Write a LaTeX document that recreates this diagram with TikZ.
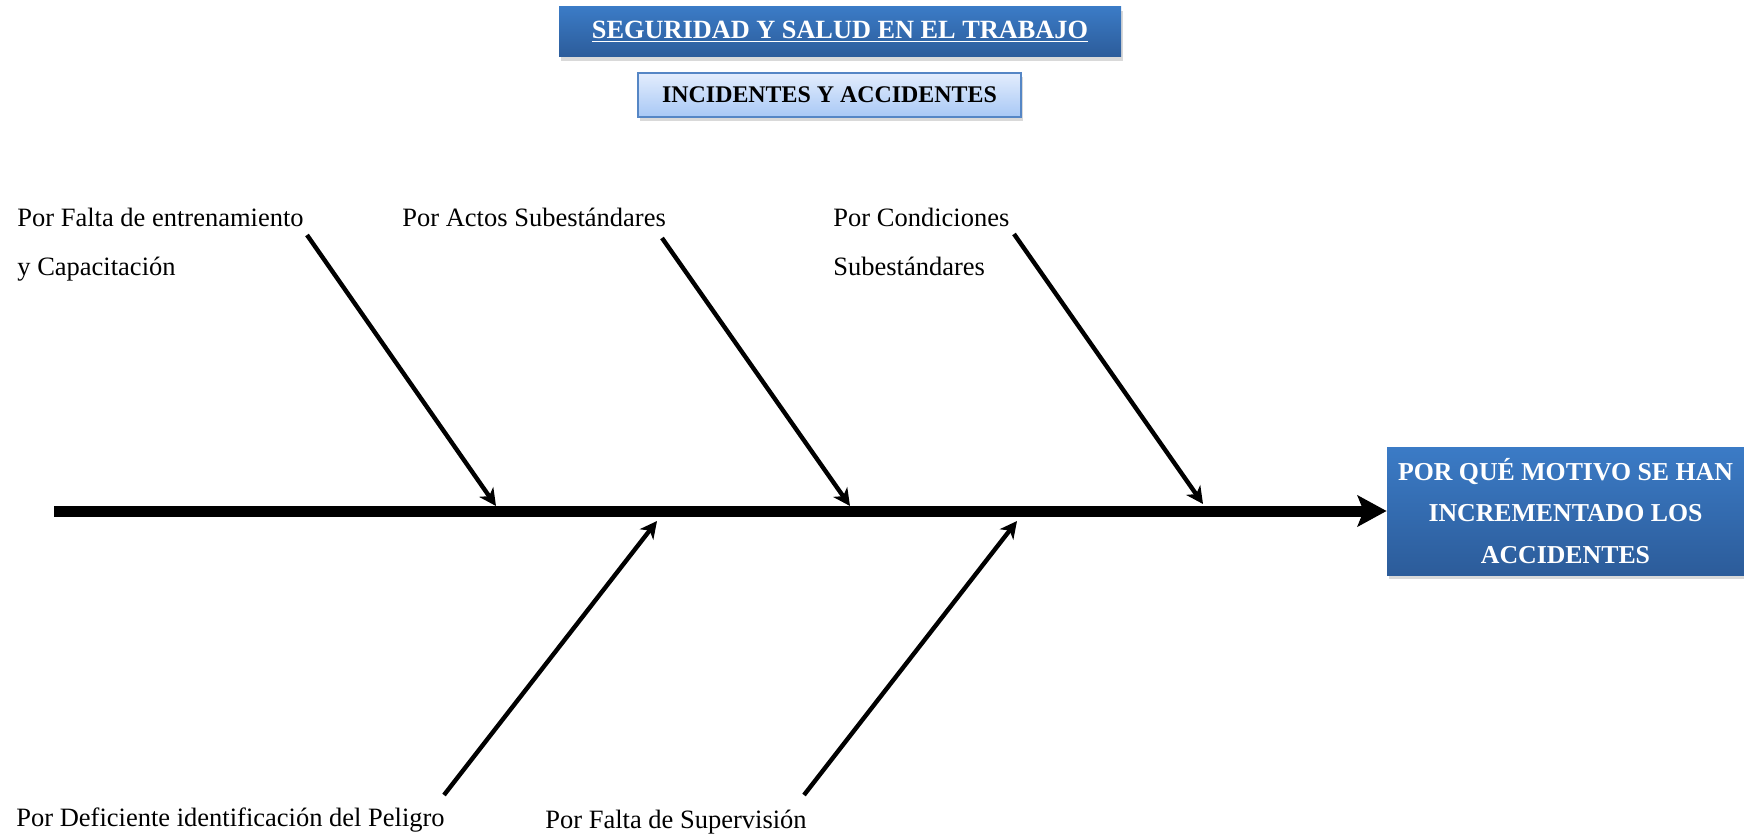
\documentclass[tikz,border=0pt]{standalone}
\usepackage{fontspec}
\setmainfont{Liberation Serif}
\usetikzlibrary{arrows.meta,shadows}

\definecolor{hdtop}{HTML}{3B7BC6}
\definecolor{hdbot}{HTML}{2C5C9A}
\definecolor{subtop}{HTML}{E3EDFD}
\definecolor{subbot}{HTML}{A8C8F5}
\definecolor{subedge}{HTML}{5586C5}

\tikzset{
  softshadow/.style={drop shadow={opacity=0.3, shadow xshift=1pt, shadow yshift=-2pt}},
  darkbox/.style={top color=hdtop, bottom color=hdbot, draw=none, text=white,
    inner sep=0pt, softshadow},
  lightbox/.style={top color=subtop, bottom color=subbot, draw=subedge, line width=0.8pt,
    text=black, inner sep=0pt, softshadow},
  lbl/.style={inner sep=0pt, anchor=base west, font=\fontsize{13.25pt}{16pt}\selectfont},
  spine/.style={line width=5.5pt, line cap=butt,
    -{Stealth[length=14.5pt, width=15.5pt, inset=3pt]}},
  bone/.style={line width=2.2pt, line cap=butt,
    -{Stealth[length=8.5pt, width=8.5pt, inset=2.5pt]}},
}

\begin{document}
\begin{tikzpicture}[x=0.5pt, y=-0.5pt]
  \useasboundingbox (0,0) rectangle (1744,834);

  % heading boxes
  \node[darkbox, minimum width=281pt, minimum height=25pt,
        font=\fontsize{13.15pt}{16pt}\selectfont\bfseries]
    (title) at (840,32) {\underline{SEGURIDAD Y SALUD EN EL TRABAJO}};
  \node[lightbox, minimum width=191.5pt, minimum height=22pt,
        font=\fontsize{11.95pt}{14pt}\selectfont\bfseries]
    (subtitle) at (829.5,95) {INCIDENTES Y ACCIDENTES};

  % effect box
  \node[darkbox, minimum width=178.5pt, minimum height=64pt, align=center,
        font=\fontsize{12.9pt}{20.8pt}\selectfont\bfseries]
    (effect) at (1565.5,511) {POR QUÉ MOTIVO SE HAN\\INCREMENTADO LOS\\ACCIDENTES};

  % cause labels
  \node[lbl] (c1a) at (17,227) {Por Falta de entrenamiento};
  \node[lbl] (c1b) at (17,275) {y Capacitación};
  \node[lbl] (c2)  at (402,227) {Por Actos Subestándares};
  \node[lbl] (c3a) at (833,227) {Por Condiciones};
  \node[lbl] (c3b) at (833,275) {Subestándares};
  \node[lbl] (c4)  at (16,826) {Por Deficiente identificación del Peligro};
  \node[lbl] (c5)  at (545,828) {Por Falta de Supervisión};

  % bone end points
  \coordinate (tail) at (54,511);
  \coordinate (s1) at (307,235);  \coordinate (t1) at (496,506);
  \coordinate (s2) at (662,238);  \coordinate (t2) at (850,506);
  \coordinate (s3) at (1014,234); \coordinate (t3) at (1203,504);
  \coordinate (s4) at (444,795);  \coordinate (t4) at (657,521);
  \coordinate (s5) at (804,795);  \coordinate (t5) at (1017,521);

  % spine and bones
  \draw[spine] (tail) -- (tail -| effect.west);
  \draw[bone] (s1) -- (t1);
  \draw[bone] (s2) -- (t2);
  \draw[bone] (s3) -- (t3);
  \draw[bone] (s4) -- (t4);
  \draw[bone] (s5) -- (t5);
\end{tikzpicture}
\end{document}
